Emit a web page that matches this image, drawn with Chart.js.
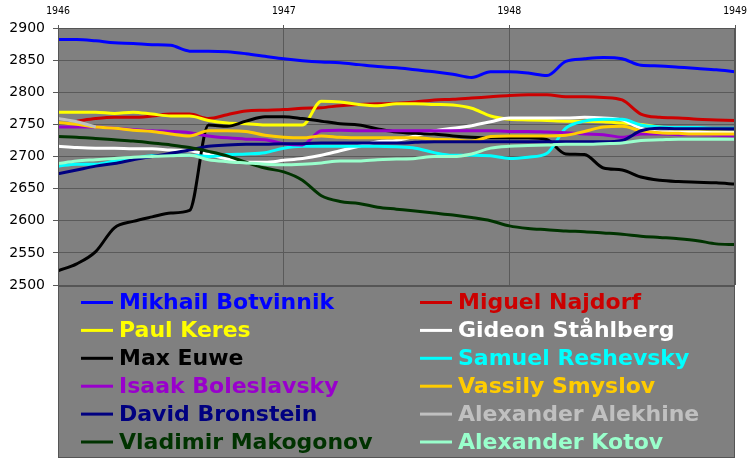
<!DOCTYPE html>
<html>
<head>
<meta charset="utf-8">
<script src="https://cdn.jsdelivr.net/npm/chart.js@4/dist/chart.umd.min.js"></script>
<style>
  html, body { margin: 0; padding: 0; background: #fff; }
  #wrap { width: 756px; height: 464px; }
</style>
</head>
<body>
<div id="wrap"><canvas id="ratingChart" width="756" height="464"></canvas></div>
<script>
// monthly points, Jan 1946 .. Jan 1949
const years = [
    1946.000, 1946.083, 1946.167, 1946.250, 1946.333, 1946.417, 1946.500, 1946.583, 1946.667, 1946.750, 1946.833, 1946.917,
    1947.000, 1947.083, 1947.167, 1947.250, 1947.333, 1947.417, 1947.500, 1947.583, 1947.667, 1947.750, 1947.833, 1947.917,
    1948.000, 1948.083, 1948.167, 1948.250, 1948.333, 1948.417, 1948.500, 1948.583, 1948.667, 1948.750, 1948.833, 1948.917,
    1949.000
];
const yearTicks = [1946, 1947, 1948, 1949];

const botvinnik = [2882, 2882, 2880, 2877, 2876, 2874, 2873, 2864, 2864, 2863, 2860, 2856, 2852, 2849, 2847, 2846, 2843, 2840, 2838, 2835, 2832, 2828, 2823, 2832, 2832, 2830, 2826, 2848, 2852, 2854, 2852, 2842, 2841, 2839, 2837, 2835, 2832];
const najdorf = [null, 2755, 2759, 2761, 2761, 2763, 2766, 2766, 2759, 2765, 2771, 2772, 2773, 2775, 2776, 2779, 2781, 2782, 2783, 2785, 2788, 2789, 2791, 2793, 2795, 2796, 2796, 2793, 2793, 2792, 2788, 2766, 2761, 2760, 2758, 2757, 2756];
const keres = [2769, 2769, 2769, 2767, 2769, 2766, 2763, 2763, 2756, 2752, 2751, 2749, 2749, 2749, 2786, 2785, 2781, 2779, 2782, 2782, 2781, 2780, 2775, 2763, 2758, 2757, 2756, 2755, 2755, 2754, 2752, 2750, 2746, 2741, 2739, 2738, 2737];
const stahlberg = [2716, 2714, 2713, 2713, 2712, 2712, 2710, 2709, 2703, 2696, 2691, 2691, 2694, 2697, 2702, 2709, 2716, 2723, 2725, 2732, 2740, 2744, 2748, 2754, 2760, 2760, 2760, 2760, 2761, 2760, 2757, 2744, 2738, 2738, 2738, 2737, 2737];
const euwe = [2522, 2533, 2552, 2589, 2599, 2606, 2612, 2616, 2749, 2747, 2755, 2762, 2762, 2759, 2755, 2751, 2749, 2743, 2738, 2736, 2735, 2732, 2730, 2729, 2729, 2729, 2726, 2704, 2703, 2682, 2679, 2668, 2663, 2661, 2660, 2659, 2657];
const reshevsky = [2685, 2688, 2688, 2693, 2697, 2701, 2702, 2702, 2700, 2703, 2704, 2706, 2713, 2716, 2716, 2716, 2716, 2716, 2715, 2713, 2706, 2702, 2702, 2701, 2697, 2699, 2705, 2744, 2755, 2758, 2758, 2749, 2746, 2745, 2745, 2744, 2744];
const boleslavsky = [2746, 2746, 2746, 2744, 2742, 2740, 2739, 2737, 2732, 2729, 2727, 2726, 2720, 2718, 2740, 2741, 2740, 2740, 2740, 2740, 2740, 2740, 2740, 2740, 2739, 2739, 2738, 2737, 2735, 2734, 2730, 2735, 2735, 2734, 2734, 2733, 2732];
const smyslov = [2753, 2750, 2746, 2744, 2741, 2739, 2735, 2732, 2740, 2740, 2739, 2733, 2730, 2729, 2732, 2730, 2729, 2729, 2729, 2729, 2727, 2726, 2724, 2731, 2732, 2732, 2732, 2733, 2739, 2746, 2747, 2740, 2737, 2736, 2735, 2735, 2735];
const bronstein = [2673, 2679, 2685, 2689, 2695, 2700, 2705, 2710, 2716, 2718, 2719, 2719, 2720, 2720, 2721, 2721, 2721, 2721, 2721, 2722, 2723, 2723, 2723, 2723, 2723, 2723, 2723, 2723, 2723, 2723, 2725, 2740, 2744, 2743, 2743, 2743, 2743];
const alekhine = [2759, 2754, 2746];
const makogonov = [2731, 2730, 2728, 2726, 2724, 2721, 2718, 2714, 2708, 2701, 2691, 2682, 2676, 2663, 2639, 2630, 2627, 2621, 2618, 2615, 2612, 2609, 2605, 2600, 2592, 2588, 2586, 2584, 2583, 2581, 2579, 2576, 2574, 2572, 2569, 2564, 2563];
const kotov = [2689, 2693, 2695, 2697, 2699, 2700, 2701, 2702, 2695, 2692, 2690, 2688, 2687, 2688, 2690, 2693, 2693, 2695, 2696, 2697, 2700, 2700, 2704, 2713, 2716, 2717, 2718, 2719, 2719, 2720, 2721, 2725, 2726, 2727, 2727, 2727, 2727];

// legend order: row by row, two columns
const players = [
    ['Mikhail Botvinnik', botvinnik, '#0000ff'],
    ['Miguel Najdorf', najdorf, '#cc0000'],
    ['Paul Keres', keres, '#ffff00'],
    ['Gideon Ståhlberg', stahlberg, '#ffffff'],
    ['Max Euwe', euwe, '#000000'],
    ['Samuel Reshevsky', reshevsky, '#00ffff'],
    ['Isaak Boleslavsky', boleslavsky, '#9900cc'],
    ['Vassily Smyslov', smyslov, '#ffcc00'],
    ['David Bronstein', bronstein, '#000080'],
    ['Alexander Alekhine', alekhine, '#c0c0c0'],
    ['Vladimir Makogonov', makogonov, '#003300'],
    ['Alexander Kotov', kotov, '#99ffcc']
];

const plotBg = {
    id: 'plotBg',
    beforeDraw(chart) {
        const a = chart.chartArea, ctx = chart.ctx;
        ctx.save();
        ctx.fillStyle = '#808080';
        ctx.fillRect(a.left, a.top, a.right - a.left, 457 - a.top);
        ctx.restore();
    }
};

const legendBox = {
    id: 'legendBox',
    afterDraw(chart) {
        const a = chart.chartArea, ctx = chart.ctx;
        ctx.save();
        // frame
        ctx.strokeStyle = '#555555';
        ctx.lineWidth = 2;
        ctx.beginPath();
        ctx.moveTo(a.left, a.bottom + 1);
        ctx.lineTo(a.right, a.bottom + 1);
        ctx.stroke();
        ctx.lineWidth = 1;
        ctx.strokeRect(a.left + 0.5, a.top + 0.5, a.right - a.left - 1, 457 - a.top);

        ctx.font = 'bold 22px "DejaVu Sans"';
        ctx.textBaseline = 'middle';
        ctx.textAlign = 'left';
        chart.data.datasets.forEach((ds, i) => {
            const col = i % 2, row = Math.floor(i / 2);
            const x = a.left + 23 + col * 339;
            const y = a.bottom + 17.5 + row * 27.9;
            ctx.strokeStyle = ds.borderColor;
            ctx.lineWidth = 3;
            ctx.beginPath();
            ctx.moveTo(x, y);
            ctx.lineTo(x + 32, y);
            ctx.stroke();
            ctx.fillStyle = ds.borderColor;
            ctx.fillText(ds.label, x + 38, y + 1);
        });
        ctx.restore();
    }
};

new Chart(document.getElementById('ratingChart'), {
    type: 'line',
    data: {
        datasets: players.map(([name, vals, color], i) => ({
            label: name,
            data: vals.map((v, k) => ({ x: years[k], y: v })),
            borderColor: color,
            backgroundColor: color,
            borderWidth: 3,
            pointRadius: 0,
            cubicInterpolationMode: 'monotone',
            spanGaps: false,
            order: -i
        }))
    },
    options: {
        responsive: false,
        animation: false,
        layout: { padding: { left: 0, top: 0, right: 21, bottom: 179 } },
        plugins: {
            legend: { display: false },
            tooltip: { enabled: false }
        },
        scales: {
            x: {
                type: 'linear',
                position: 'top',
                min: 1946,
                max: 1949,
                afterBuildTicks: s => { s.ticks = yearTicks.map(v => ({ value: v })); },
                afterFit: s => { s.height = 28; },
                ticks: {
                    callback: v => String(v),
                    color: '#000',
                    font: { family: '"DejaVu Sans Mono"', size: 10 },
                    padding: 8,
                    maxRotation: 0
                },
                grid: { color: '#5a5a5a', lineWidth: 1, tickLength: 3 },
                border: { color: '#555555' }
            },
            y: {
                min: 2500,
                max: 2900,
                afterFit: s => { s.width = 58; },
                ticks: {
                    stepSize: 50,
                    callback: v => String(v),
                    color: '#000',
                    font: { family: '"DejaVu Sans"', size: 14 },
                    padding: 8
                },
                grid: { color: '#5a5a5a', lineWidth: 1, tickLength: 5 },
                border: { color: '#555555' }
            }
        }
    },
    plugins: [plotBg, legendBox]
});
</script>
</body>
</html>
